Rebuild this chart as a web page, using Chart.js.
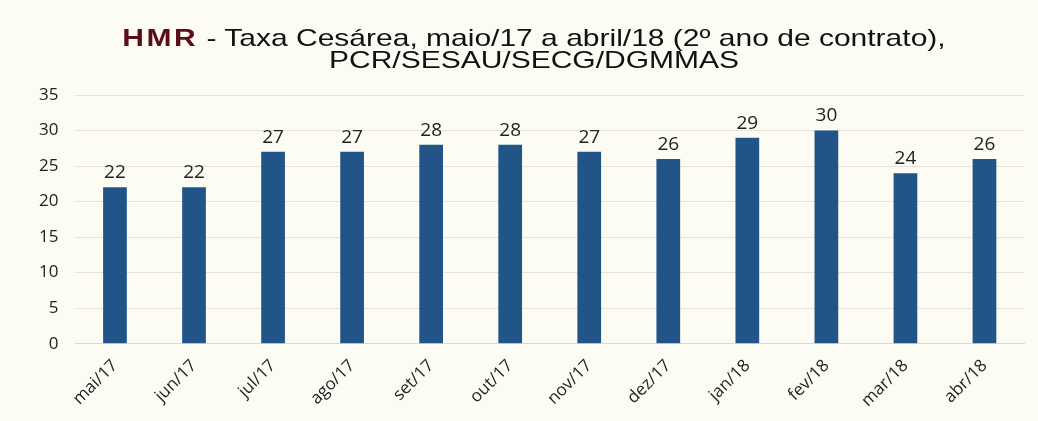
<!DOCTYPE html>
<html>
<head>
<meta charset="utf-8">
<script src="https://cdn.jsdelivr.net/npm/chart.js@4"></script>
<style>
  body { margin: 0; background: #fdfcf4; }
  #wrap { position: relative; width: 1038px; height: 421px; }
  #title {
    position: absolute; left: 15px; top: 27px; width: 1038px;
    text-align: center; font-family: "Liberation Sans", Arial, sans-serif;
    font-size: 24px; line-height: 22px; color: #111;
    transform: scaleX(1.25); transform-origin: 519px 0;
  }
  #title b { color: #5c0d17; letter-spacing: 2px; }
  canvas { position: absolute; left: 0; top: 0; }
</style>
</head>
<body>
<div id="wrap">
  <canvas id="chart" width="1038" height="421"></canvas>
  <div id="title"><b>HMR</b> - Taxa Cesárea, maio/17 a abril/18 (2º ano de contrato),<br>PCR/SESAU/SECG/DGMMAS</div>
</div>
<script>
const months = ["mai/17", "jun/17", "jul/17", "ago/17", "set/17", "out/17", "nov/17", "dez/17", "jan/18", "fev/18", "mar/18", "abr/18"];
const taxa = [22, 22, 27, 27, 28, 28, 27, 26, 29, 30, 24, 26];
const yTicks = [0, 5, 10, 15, 20, 25, 30, 35];

// values written above each bar
const barLabels = {
  id: "barLabels",
  afterDatasetsDraw(chart) {
    const ctx = chart.ctx;
    const meta = chart.getDatasetMeta(0);
    ctx.save();
    ctx.font = "19px 'Open Sans', sans-serif";
    ctx.fillStyle = "#222";
    ctx.textAlign = "center";
    ctx.textBaseline = "bottom";
    meta.data.forEach((bar, i) => {
      ctx.fillText(taxa[i], bar.x, bar.y - 5);
    });
    ctx.restore();
  }
};

new Chart(document.getElementById("chart").getContext("2d"), {
  type: "bar",
  data: {
    labels: months,
    datasets: [{
      data: taxa,
      backgroundColor: "#225587",
      barPercentage: 0.6,
      categoryPercentage: 0.5
    }]
  },
  options: {
    responsive: false,
    animation: false,
    layout: { padding: { top: 95, left: 22, right: 14, bottom: 6 } },
    plugins: {
      legend: { display: false },
      tooltip: { enabled: false }
    },
    scales: {
      x: {
        grid: { display: false },
        border: { color: "#d8d8d8" },
        ticks: {
          color: "#222",
          font: { family: "'Open Sans', sans-serif", size: 17 },
          maxRotation: 45,
          minRotation: 45,
          padding: 4
        }
      },
      y: {
        min: 0,
        max: 35,
        afterBuildTicks(scale) {
          scale.ticks = yTicks.map(v => ({ value: v }));
        },
        grid: { color: "#e4e2da", drawTicks: false },
        border: { display: false },
        ticks: {
          color: "#222",
          font: { family: "'Open Sans', sans-serif", size: 17 },
          padding: 17
        }
      }
    }
  },
  plugins: [barLabels]
});
</script>
</body>
</html>
